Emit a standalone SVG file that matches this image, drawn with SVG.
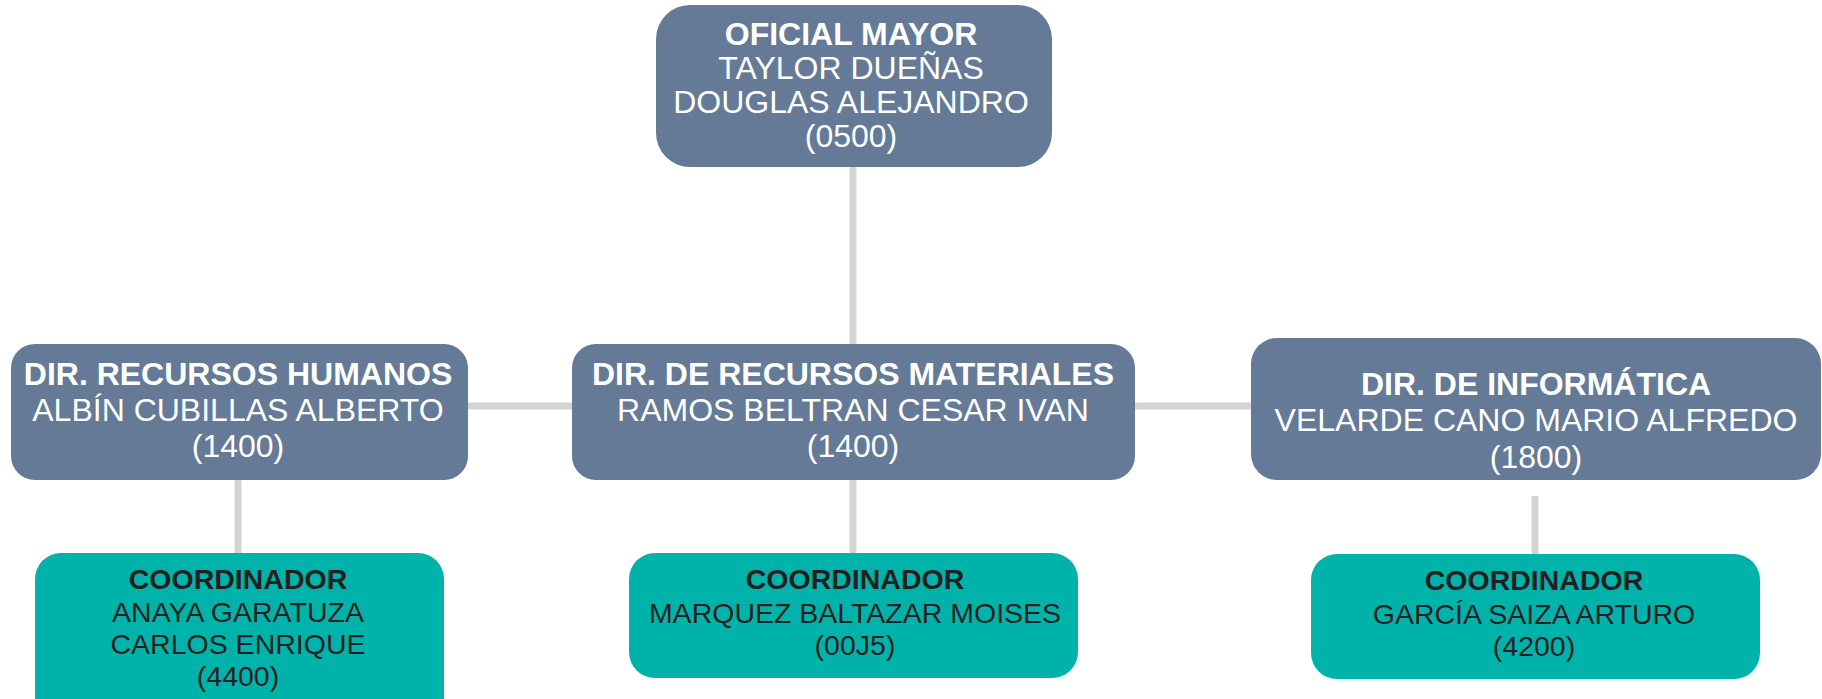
<svg xmlns="http://www.w3.org/2000/svg" width="1822" height="699" viewBox="0 0 1822 699">
<style>
.dir{fill:#647a96;}
.coo{fill:#00b3aa;}
.t{font-family:"Liberation Sans",Arial,sans-serif;text-anchor:middle;}
.w{fill:#ffffff;font-size:32px;}
.k{fill:#231f20;font-size:28.5px;}
.b{font-weight:bold;}
.con{stroke:#d4d4d6;stroke-width:7;fill:none;}
</style>
<rect width="1822" height="699" fill="#ffffff"/>
<g id="connectors">
<line class="con" x1="853" y1="166" x2="853" y2="344"/>
<line class="con" x1="468" y1="406" x2="572" y2="406"/>
<line class="con" x1="1135" y1="406" x2="1251" y2="406"/>
<line class="con" x1="238" y1="479" x2="238" y2="554"/>
<line class="con" x1="853" y1="479" x2="853" y2="554"/>
<line class="con" x1="1535" y1="496" x2="1535" y2="554"/>
</g>
<g id="oficial-mayor">
<rect class="dir" x="656" y="5" width="396" height="162" rx="34"/>
<text class="t w b" x="851" y="45">OFICIAL MAYOR</text>
<text class="t w" x="851" y="79">TAYLOR DUEÑAS</text>
<text class="t w" x="851" y="113">DOUGLAS ALEJANDRO</text>
<text class="t w" x="851" y="147">(0500)</text>
</g>
<g id="dir-rh">
<rect class="dir" x="11" y="344" width="457" height="136" rx="24"/>
<text class="t w b" x="238" y="385">DIR. RECURSOS HUMANOS</text>
<text class="t w" x="238" y="421">ALBÍN CUBILLAS ALBERTO</text>
<text class="t w" x="238" y="457">(1400)</text>
</g>
<g id="dir-rm">
<rect class="dir" x="572" y="344" width="563" height="136" rx="24"/>
<text class="t w b" x="853" y="385">DIR. DE RECURSOS MATERIALES</text>
<text class="t w" x="853" y="421">RAMOS BELTRAN CESAR IVAN</text>
<text class="t w" x="853" y="457">(1400)</text>
</g>
<g id="dir-inf">
<rect class="dir" x="1251" y="338" width="570" height="142" rx="26"/>
<text class="t w b" x="1536" y="395">DIR. DE INFORMÁTICA</text>
<text class="t w" x="1536" y="431">VELARDE CANO MARIO ALFREDO</text>
<text class="t w" x="1536" y="468">(1800)</text>
</g>
<g id="coord-rh">
<rect class="coo" x="35" y="553" width="409" height="170" rx="26"/>
<text class="t k b" x="238" y="589">COORDINADOR</text>
<text class="t k" x="238" y="622">ANAYA GARATUZA</text>
<text class="t k" x="238" y="654">CARLOS ENRIQUE</text>
<text class="t k" x="238" y="686">(4400)</text>
</g>
<g id="coord-rm">
<rect class="coo" x="629" y="553" width="449" height="125" rx="26"/>
<text class="t k b" x="855" y="589">COORDINADOR</text>
<text class="t k" x="855" y="623">MARQUEZ BALTAZAR MOISES</text>
<text class="t k" x="855" y="655">(00J5)</text>
</g>
<g id="coord-inf">
<rect class="coo" x="1311" y="554" width="449" height="125" rx="26"/>
<text class="t k b" x="1534" y="590">COORDINADOR</text>
<text class="t k" x="1534" y="624">GARCÍA SAIZA ARTURO</text>
<text class="t k" x="1534" y="656">(4200)</text>
</g>
</svg>
